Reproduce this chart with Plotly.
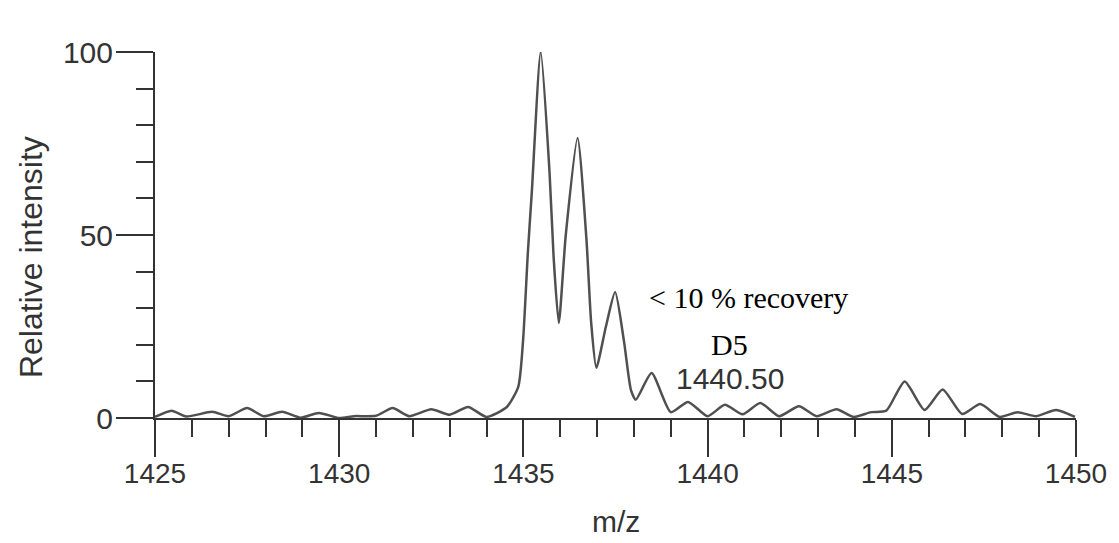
import plotly.graph_objects as go

# m/z positions and relative intensities
mz = [1425.0, 1425.45, 1425.85, 1426.55, 1427.0, 1427.5, 1427.95, 1428.45, 1428.95,
      1429.45, 1430.0, 1430.4, 1431.0, 1431.45, 1431.9, 1432.5, 1433.0, 1433.5,
      1434.0, 1434.55, 1434.86, 1434.99, 1435.12, 1435.23, 1435.47, 1435.71,
      1435.82, 1435.96, 1436.15, 1436.47, 1436.71, 1436.84, 1436.98,
      1437.24, 1437.49, 1437.73, 1437.92, 1438.05, 1438.48, 1439.0, 1439.47,
      1440.0, 1440.47, 1440.95, 1441.43, 1441.94, 1442.48, 1442.96, 1443.5,
      1443.96, 1444.44, 1444.85, 1445.35, 1445.89, 1446.38, 1446.91, 1447.4,
      1447.93, 1448.41, 1448.92, 1449.46, 1449.97]
intensity = [0.3, 2.0, 0.4, 1.7, 0.5, 2.7, 0.5, 1.7, 0.1,
             1.4, 0.0, 0.5, 0.6, 2.7, 0.5, 2.4, 0.9, 3.0,
             0.3, 3.0, 8.5, 21, 45, 62, 100, 67,
             44, 26, 50, 76.5, 49, 26, 13.7,
             25, 34.4, 21, 7.6, 5.0, 12.3, 1.6, 4.4,
             0.5, 3.6, 1.0, 4.1, 0.5, 3.2, 0.5, 2.4,
             0.3, 1.6, 2.0, 10, 2.2, 7.8, 1.1, 3.8,
             0.3, 1.6, 0.5, 2.2, 0.3]

x_ticks = [1425, 1430, 1435, 1440, 1445, 1450]
y_ticks = [0, 50, 100]

axis_col = "#333333"
sans = "Liberation Sans, Arial, sans-serif"
serif = "Liberation Serif, Times New Roman, serif"

fig = go.Figure()
fig.add_trace(go.Scatter(x=mz, y=intensity, mode="lines",
                         line=dict(color="#505050", width=2.5, shape="spline", smoothing=0.6),
                         hoverinfo="skip", showlegend=False))

fig.update_layout(
    width=1119, height=543,
    margin=dict(l=155, r=33, t=52, b=125),
    plot_bgcolor="white", paper_bgcolor="white",
    font=dict(family=sans, size=30, color=axis_col),
    showlegend=False,
)
fig.update_xaxes(range=[1425, 1450], tickvals=x_ticks, showgrid=False, zeroline=False,
                 showline=True, linecolor=axis_col, linewidth=2,
                 ticks="outside", ticklen=37, tickwidth=2, tickcolor=axis_col,
                 ticklabelstandoff=-8,
                 minor=dict(dtick=1, tick0=1425, ticks="outside", ticklen=17,
                            tickwidth=2, tickcolor=axis_col, showgrid=False),
                 tickfont=dict(size=28))
fig.update_yaxes(range=[0, 100], tickvals=y_ticks, showgrid=False, zeroline=False,
                 showline=True, linecolor=axis_col, linewidth=2,
                 ticks="outside", ticklen=37, tickwidth=2, tickcolor=axis_col,
                 ticklabelstandoff=-3,
                 minor=dict(dtick=10, tick0=0, ticks="outside", ticklen=17,
                            tickwidth=2, tickcolor=axis_col, showgrid=False),
                 tickfont=dict(size=30))

# axis titles
fig.add_annotation(text="m/z", xref="paper", yref="paper", x=0.5, y=-0.284,
                   yanchor="middle", showarrow=False, font=dict(size=30))
fig.add_annotation(text="Relative intensity", xref="paper", yref="paper", x=-0.1345,
                   y=0.44, textangle=-90, xanchor="center", yanchor="middle",
                   showarrow=False, font=dict(size=32))

# peak labels
fig.add_annotation(text="1435.50", x=1435.55, y=105.7, yanchor="middle",
                   showarrow=False, font=dict(size=30))
fig.add_annotation(text="< 10 % recovery", x=1441.1, y=33, yanchor="middle",
                   showarrow=False, font=dict(family=serif, size=30, color="black"))
fig.add_annotation(text="D5", x=1440.6, y=20, yanchor="middle",
                   showarrow=False, font=dict(family=serif, size=30, color="black"))
fig.add_annotation(text="1440.50", x=1440.62, y=10.9, yanchor="middle",
                   showarrow=False, font=dict(size=30))

# drop the default page margin so the figure fills the window exactly
fig.write_html("out.html", config={"displayModeBar": False},
               post_script="document.body.style.margin='0';document.body.style.overflow='hidden';")
